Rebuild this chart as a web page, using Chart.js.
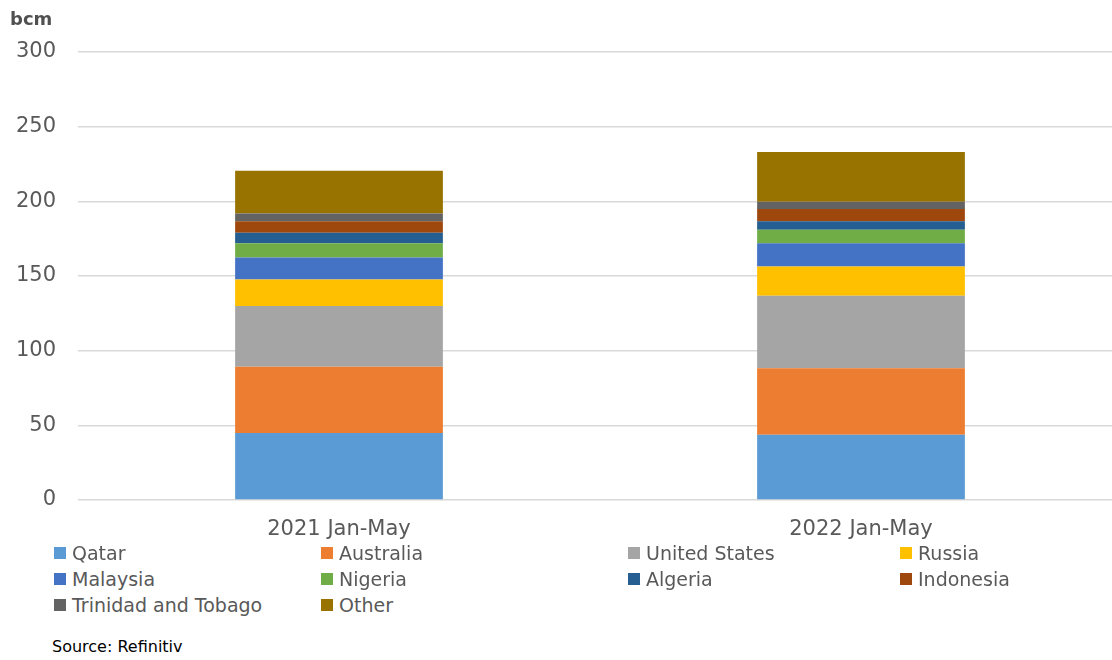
<!DOCTYPE html>
<html>
<head>
<meta charset="utf-8">
<script src="https://cdn.jsdelivr.net/npm/chart.js@4"></script>
<style>
  html, body { margin: 0; padding: 0; background: #fff; overflow: hidden; width: 1112px; height: 660px; }
  #wrap { position: absolute; left: 0; top: 0; width: 1122px; height: 548px; }
  #unit { position: absolute; left: 10px; top: 8px; font: bold 18px "DejaVu Sans", sans-serif; color: #505050; }
  #source { position: absolute; left: 52px; top: 637px; font: 16px "DejaVu Sans", sans-serif; color: #000; }
  .lg { position: absolute; font: 19px "DejaVu Sans", sans-serif; color: #595959; white-space: nowrap; line-height: 22px; }
  .lg span.box { position: absolute; left: -18px; top: 5px; width: 12px; height: 12px; }
</style>
</head>
<body>
<div id="wrap"><canvas id="c" width="1122" height="548"></canvas></div>
<div id="unit">bcm</div>
<div id="legend"></div>
<div id="source">Source: Refinitiv</div>
<script>
const categories = ["2021 Jan-May", "2022 Jan-May"];
const seriesNames = ["Qatar", "Australia", "United States", "Russia", "Malaysia", "Nigeria", "Algeria", "Indonesia", "Trinidad and Tobago", "Other"];
const qatar      = [44.9, 43.7];
const australia  = [44.4, 44.5];
const unitedStates = [40.6, 48.6];
const russia     = [17.8, 19.6];
const malaysia   = [14.7, 15.6];
const nigeria    = [9.6, 8.9];
const algeria    = [6.9, 5.8];
const indonesia  = [7.8, 8.1];
const trinidad   = [5.2, 4.9];
const other      = [28.5, 33.4];
const yTicks = [0, 50, 100, 150, 200, 250, 300];

const seriesValues = [qatar, australia, unitedStates, russia, malaysia, nigeria, algeria, indonesia, trinidad, other];
const colors = ["#5B9BD5", "#ED7D31", "#A5A5A5", "#FFC000", "#4472C4", "#70AD47", "#255E91", "#9E480E", "#636363", "#997300"];

const datasets = seriesNames.map((n, i) => ({
  label: n,
  data: seriesValues[i],
  backgroundColor: colors[i],
  borderWidth: 0,
  barPercentage: 0.398,
  categoryPercentage: 1.0
}));

new Chart(document.getElementById('c'), {
  type: 'bar',
  data: { labels: categories, datasets },
  options: {
    responsive: false,
    animation: false,
    layout: { padding: { top: 52, right: 0, left: 0, bottom: 0 } },
    plugins: { legend: { display: false }, tooltip: { enabled: false } },
    scales: {
      x: {
        stacked: true,
        grid: { display: false, drawTicks: false },
        border: { display: false },
        ticks: { color: '#595959', font: { family: 'DejaVu Sans', size: 21 }, padding: 17 },
        afterFit: s => { s.height = 48; }
      },
      y: {
        stacked: true,
        min: 0, max: 300,
        afterBuildTicks: s => { s.ticks = yTicks.map(v => ({ value: v })); },
        grid: { color: '#d9d9d9', lineWidth: 1.5, drawTicks: false },
        border: { display: false },
        ticks: { color: '#595959', font: { family: 'DejaVu Sans', size: 21 }, padding: 22 },
        afterFit: s => { s.width = 78; }
      }
    }
  }
});

// legend (4 columns, Excel-style)
const colLeft = [72, 339, 646, 918];
const rowTop = [542, 568, 594];
const lg = document.getElementById('legend');
seriesNames.forEach((n, i) => {
  const d = document.createElement('div');
  d.className = 'lg';
  d.style.left = colLeft[i % 4] + 'px';
  d.style.top = rowTop[Math.floor(i / 4)] + 'px';
  const b = document.createElement('span');
  b.className = 'box';
  b.style.background = colors[i];
  d.appendChild(b);
  d.appendChild(document.createTextNode(n));
  lg.appendChild(d);
});
</script>
</body>
</html>
